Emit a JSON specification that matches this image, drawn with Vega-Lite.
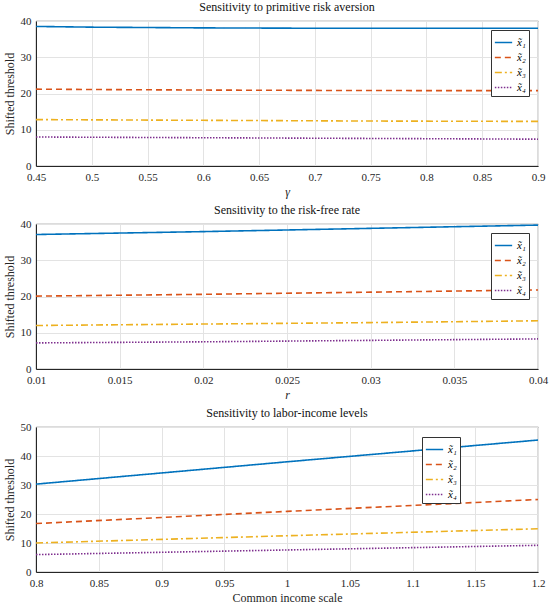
{
  "$schema": "https://vega.github.io/schema/vega-lite/v6.json",
  "padding": {"left": 2, "top": 0, "right": 10, "bottom": 2},
  "background": "white",
  "spacing": 5,
  "config": {
    "font": "Liberation Serif, DejaVu Serif, serif",
    "view": {"stroke": "#262626", "strokeWidth": 0.8},
    "title": {"font": "Liberation Serif, DejaVu Serif, serif", "fontSize": 12, "fontWeight": "normal", "color": "#111", "offset": 1},
    "axis": {
      "labelFont": "Liberation Serif, DejaVu Serif, serif", "titleFont": "Liberation Serif, DejaVu Serif, serif",
      "labelFontSize": 11, "titleFontSize": 12, "titleFontWeight": "normal",
      "labelColor": "#262626", "titleColor": "#262626",
      "gridColor": "#e3e3e3", "domainColor": "#262626", "ticks": false,
      "labelPadding": 5, "labelFlush": false
    },
    "axisY": {"labelPadding": 5, "titlePadding": 4},
    "legend": {
      "labelFont": "Liberation Serif, DejaVu Serif, serif",
      "strokeColor": "#333", "fillColor": "white", "padding": 3,
      "labelFontSize": 11, "labelFontStyle": "italic", "symbolType": "stroke",
      "symbolSize": 300, "symbolStrokeWidth": 1.6, "rowPadding": 0, "title": null
    }
  },
  "vconcat": [
    {
      "title": "Sensitivity to primitive risk aversion",
      "width": 502, "height": 145,
      "data": {"values": [
        {"x": 0.45, "s": "x̃₁", "y": 38.5}, {"x": 0.5, "s": "x̃₁", "y": 38.3}, {"x": 0.6, "s": "x̃₁", "y": 38.1}, {"x": 0.7, "s": "x̃₁", "y": 38.0}, {"x": 0.8, "s": "x̃₁", "y": 38.0}, {"x": 0.9, "s": "x̃₁", "y": 38.0},
        {"x": 0.45, "s": "x̃₂", "y": 21.2}, {"x": 0.5, "s": "x̃₂", "y": 21.1}, {"x": 0.6, "s": "x̃₂", "y": 20.95}, {"x": 0.7, "s": "x̃₂", "y": 20.85}, {"x": 0.8, "s": "x̃₂", "y": 20.8}, {"x": 0.9, "s": "x̃₂", "y": 20.8},
        {"x": 0.45, "s": "x̃₃", "y": 12.8}, {"x": 0.6, "s": "x̃₃", "y": 12.6}, {"x": 0.75, "s": "x̃₃", "y": 12.4}, {"x": 0.9, "s": "x̃₃", "y": 12.3},
        {"x": 0.45, "s": "x̃₄", "y": 8.0}, {"x": 0.6, "s": "x̃₄", "y": 7.8}, {"x": 0.75, "s": "x̃₄", "y": 7.6}, {"x": 0.9, "s": "x̃₄", "y": 7.4}
      ]},
      "mark": {"type": "line", "strokeWidth": 1.6},
      "encoding": {
        "x": {"field": "x", "type": "quantitative", "scale": {"domain": [0.45, 0.9], "nice": false},
              "axis": {"title": "γ", "titleFontStyle": "italic", "values": [0.45, 0.5, 0.55, 0.6, 0.65, 0.7, 0.75, 0.8, 0.85, 0.9], "format": "~g"}},
        "y": {"field": "y", "type": "quantitative", "scale": {"domain": [0, 40]},
              "axis": {"title": "Shifted threshold", "values": [0, 10, 20, 30, 40]}},
        "color": {"field": "s", "type": "nominal", "scale": {"domain": ["x̃₁", "x̃₂", "x̃₃", "x̃₄"], "range": ["#0072BD", "#D95319", "#EDB120", "#7E2F8E"]},
                  "legend": {"orient": "top-right", "offset": 9}},
        "strokeDash": {"field": "s", "type": "nominal", "scale": {"domain": ["x̃₁", "x̃₂", "x̃₃", "x̃₄"], "range": [[1, 0], [6, 4], [7, 3, 2, 3], [1.5, 1.5]]},
                  "legend": {"orient": "top-right", "offset": 9}}
      }
    },
    {
      "title": "Sensitivity to the risk-free rate",
      "width": 502, "height": 145,
      "data": {"values": [
        {"x": 0.01, "s": "x̃₁", "y": 37.1}, {"x": 0.02, "s": "x̃₁", "y": 37.9}, {"x": 0.03, "s": "x̃₁", "y": 38.8}, {"x": 0.04, "s": "x̃₁", "y": 39.7},
        {"x": 0.01, "s": "x̃₂", "y": 20.1}, {"x": 0.02, "s": "x̃₂", "y": 20.6}, {"x": 0.03, "s": "x̃₂", "y": 21.2}, {"x": 0.04, "s": "x̃₂", "y": 21.8},
        {"x": 0.01, "s": "x̃₃", "y": 12.0}, {"x": 0.02, "s": "x̃₃", "y": 12.4}, {"x": 0.03, "s": "x̃₃", "y": 12.8}, {"x": 0.04, "s": "x̃₃", "y": 13.3},
        {"x": 0.01, "s": "x̃₄", "y": 7.2}, {"x": 0.02, "s": "x̃₄", "y": 7.5}, {"x": 0.03, "s": "x̃₄", "y": 7.9}, {"x": 0.04, "s": "x̃₄", "y": 8.3}
      ]},
      "mark": {"type": "line", "strokeWidth": 1.6},
      "encoding": {
        "x": {"field": "x", "type": "quantitative", "scale": {"domain": [0.01, 0.04], "nice": false},
              "axis": {"title": "r", "titleFontStyle": "italic", "values": [0.01, 0.015, 0.02, 0.025, 0.03, 0.035, 0.04], "format": "~g"}},
        "y": {"field": "y", "type": "quantitative", "scale": {"domain": [0, 40]},
              "axis": {"title": "Shifted threshold", "values": [0, 10, 20, 30, 40]}},
        "color": {"field": "s", "type": "nominal", "scale": {"domain": ["x̃₁", "x̃₂", "x̃₃", "x̃₄"], "range": ["#0072BD", "#D95319", "#EDB120", "#7E2F8E"]},
                  "legend": {"orient": "top-right", "offset": 9}},
        "strokeDash": {"field": "s", "type": "nominal", "scale": {"domain": ["x̃₁", "x̃₂", "x̃₃", "x̃₄"], "range": [[1, 0], [6, 4], [7, 3, 2, 3], [1.5, 1.5]]},
                  "legend": {"orient": "top-right", "offset": 9}}
      }
    },
    {
      "title": "Sensitivity to labor-income levels",
      "width": 502, "height": 145,
      "data": {"values": [
        {"x": 0.8, "s": "x̃₁", "y": 30.3}, {"x": 1.0, "s": "x̃₁", "y": 38.0}, {"x": 1.2, "s": "x̃₁", "y": 45.5},
        {"x": 0.8, "s": "x̃₂", "y": 16.7}, {"x": 1.0, "s": "x̃₂", "y": 20.9}, {"x": 1.2, "s": "x̃₂", "y": 25.0},
        {"x": 0.8, "s": "x̃₃", "y": 10.0}, {"x": 1.0, "s": "x̃₃", "y": 12.5}, {"x": 1.2, "s": "x̃₃", "y": 14.9},
        {"x": 0.8, "s": "x̃₄", "y": 6.0}, {"x": 1.0, "s": "x̃₄", "y": 7.6}, {"x": 1.2, "s": "x̃₄", "y": 9.2}
      ]},
      "mark": {"type": "line", "strokeWidth": 1.6},
      "encoding": {
        "x": {"field": "x", "type": "quantitative", "scale": {"domain": [0.8, 1.2], "nice": false},
              "axis": {"title": "Common income scale", "values": [0.8, 0.85, 0.9, 0.95, 1, 1.05, 1.1, 1.15, 1.2], "format": "~g"}},
        "y": {"field": "y", "type": "quantitative", "scale": {"domain": [0, 50]},
              "axis": {"title": "Shifted threshold", "values": [0, 10, 20, 30, 40, 50]}},
        "color": {"field": "s", "type": "nominal", "scale": {"domain": ["x̃₁", "x̃₂", "x̃₃", "x̃₄"], "range": ["#0072BD", "#D95319", "#EDB120", "#7E2F8E"]},
                  "legend": {"orient": "none", "legendX": 386, "legendY": 10}},
        "strokeDash": {"field": "s", "type": "nominal", "scale": {"domain": ["x̃₁", "x̃₂", "x̃₃", "x̃₄"], "range": [[1, 0], [6, 4], [7, 3, 2, 3], [1.5, 1.5]]},
                  "legend": {"orient": "none", "legendX": 386, "legendY": 10}}
      }
    }
  ],
  "resolve": {"legend": {"color": "independent", "strokeDash": "independent"}, "scale": {"x": "independent", "y": "independent"}}
}
